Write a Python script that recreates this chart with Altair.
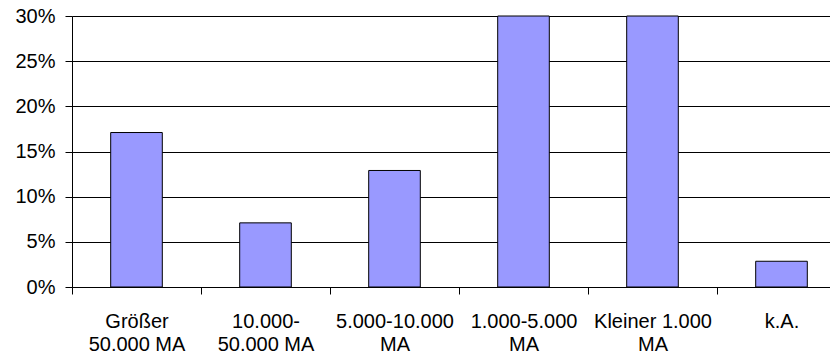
import altair as alt
import pandas as pd

categories = ["Größer|50.000 MA", "10.000-|50.000 MA", "5.000-10.000|MA",
              "1.000-5.000|MA", "Kleiner 1.000|MA", "k.A."]
values = [17.1, 7.1, 12.9, 30.0, 30.0, 2.85]
y_ticks = [0, 5, 10, 15, 20, 25, 30]

df = pd.DataFrame({"cat": categories, "val": values})

FONT = "Liberation Sans"

chart = alt.Chart(df).mark_bar(
    fill="#9999FF", stroke="#000000", strokeWidth=1,
    width=alt.RelativeBandSize(0.4)
).encode(
    x=alt.X("cat:N", sort=categories,
            scale=alt.Scale(range=[0, 774], paddingInner=0, paddingOuter=0),
            axis=alt.Axis(title=None, labelAngle=0, tickBand="extent",
                          labelExpr="split(datum.label, '|')",
                          labelFont=FONT, labelFontSize=20, labelColor="#000000",
                          labelLineHeight=23, labelPadding=17,
                          tickSize=7, tickColor="#000000",
                          domainColor="#000000", grid=False,
                          labelBaseline="top")),
    y=alt.Y("val:Q",
            scale=alt.Scale(domain=[0, 30], nice=False, zero=True),
            axis=alt.Axis(title=None, values=y_ticks,
                          labelExpr="datum.value + '%'",
                          labelFont=FONT, labelFontSize=20, labelColor="#000000",
                          labelPadding=10, tickSize=7, tickColor="#000000",
                          domainColor="#000000", grid=True,
                          gridColor="#000000", gridOpacity=1, gridWidth=1)),
).properties(
    width=758, height=271,
    padding={"left": 72, "top": 16, "right": 0, "bottom": 69},
    autosize=alt.AutoSizeParams(type="none"),
).configure_view(stroke=None).configure(background="#ffffff")

chart.save("out.html", embed_options={"renderer": "svg", "actions": False})
